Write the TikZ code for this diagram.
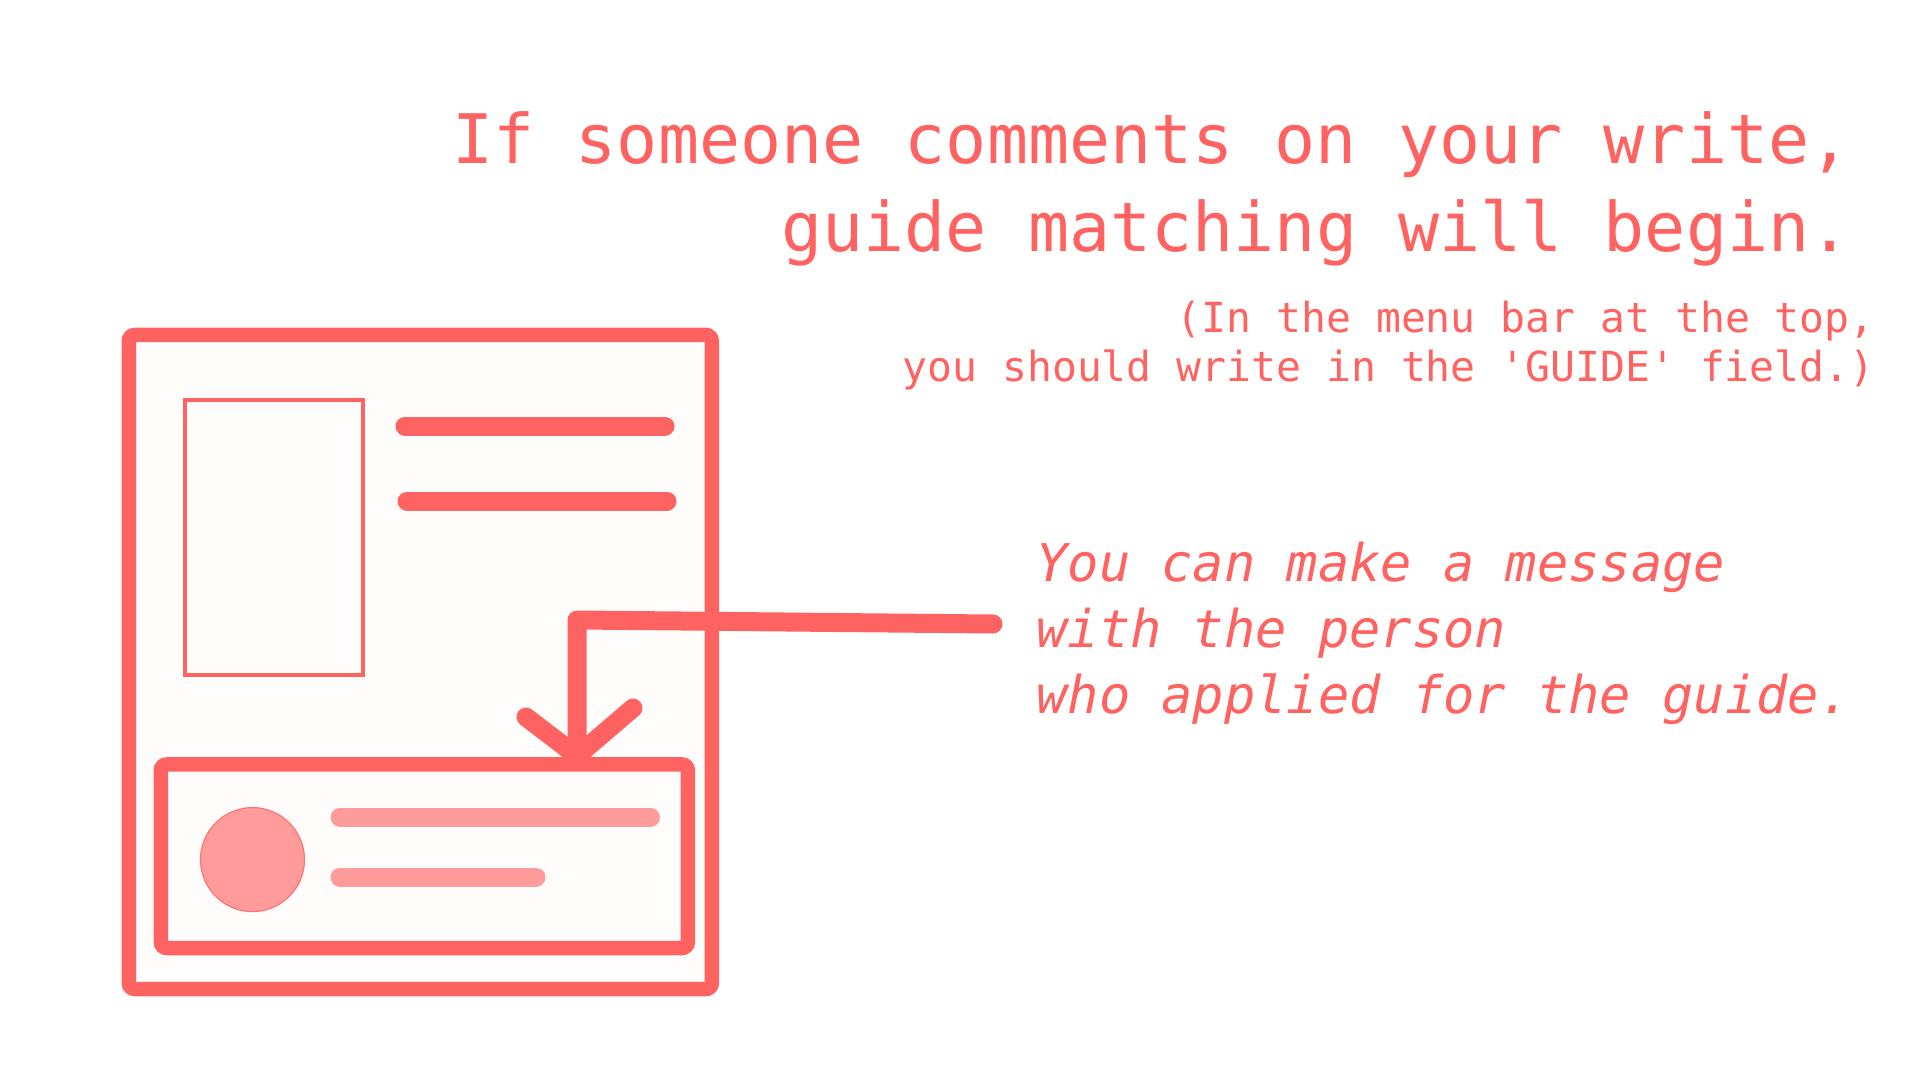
\documentclass[tikz,border=0pt]{standalone}
\usepackage{fontspec}
\newfontfamily\monofam{DejaVu Sans Mono}
\definecolor{coral}{RGB}{255,99,97}
\definecolor{pinkish}{RGB}{255,155,155}
\definecolor{paper}{RGB}{255,253,251}
\tikzset{
  frame/.style={draw=coral, fill=paper, line width=7.25pt, rounded corners=3pt, inner sep=0pt, outer sep=0pt},
  thinframe/.style={draw=coral, line width=2pt, inner sep=0pt, outer sep=0pt},
  bar/.style={draw=coral, line width=9.5pt, line cap=round},
  pinkbar/.style={draw=pinkish, line width=9.5pt, line cap=round},
  conn/.style={draw=coral, line width=9.5pt, line cap=round, line join=round},
  title/.style={text=coral, inner sep=0pt, anchor=base east, font=\monofam\fontsize{34.15pt}{34.15pt}\selectfont},
  note/.style={text=coral, inner sep=0pt, anchor=base east, font=\monofam\fontsize{20.7pt}{20.7pt}\selectfont},
  msg/.style={text=coral, inner sep=0pt, anchor=base west, font=\monofam\itshape\fontsize{26pt}{26pt}\selectfont},
}
\begin{document}
\begin{tikzpicture}[x=0.5pt,y=-0.5pt]
\useasboundingbox[fill=white] (0,0) rectangle (1920,1080);
% phone
\node[frame, minimum width=583*0.5pt, minimum height=654*0.5pt] (phone) at (420.3,662) {};
\node[thinframe, minimum width=177.5*0.5pt, minimum height=275.5*0.5pt] (photo) at (273.8,537.3) {};
\coordinate (l1a) at (405,426); \coordinate (l1b) at (665,426);
\coordinate (l2a) at (407,501); \coordinate (l2b) at (667,501);
\draw[bar] (l1a) -- (l1b);
\draw[bar] (l2a) -- (l2b);
% card
\node[frame, minimum width=527*0.5pt, minimum height=183.6*0.5pt] (card) at (424.3,856.2) {};
\node[circle, draw=coral!70!pinkish, line width=0.6pt, fill=pinkish, minimum size=104*0.5pt, inner sep=0pt] (avatar) at (252.5,859.6) {};
\coordinate (p1a) at (340,817); \coordinate (p1b) at (650.5,817);
\coordinate (p2a) at (340,877); \coordinate (p2b) at (536,877);
\draw[pinkbar] (p1a) -- (p1b);
\draw[pinkbar] (p2a) -- (p2b);
% connector
\coordinate (cstart) at (993,624);
\coordinate (bend) at (577,620);
\coordinate (tip) at (577,756);
\coordinate (armL) at (526,717);
\coordinate (armR) at (633,708);
\draw[conn] (cstart) -- (bend) -- (tip);
\draw[conn] (armL) -- (tip) -- (armR);
% texts
\node[title] (t1) at (1851,164) {If someone comments on your write,};
\node[title] (t2) at (1851,252) {guide matching will begin.};
\node[note] (n1) at (1875,333) {(In the menu bar at the top,};
\node[note] (n2) at (1875,381) {you should write in the 'GUIDE' field.)};
\node[msg] (m1) at (1036,581) {You can make a message};
\node[msg] (m2) at (1036,647) {with the person};
\node[msg] (m3) at (1036,713) {who applied for the guide.};
\end{tikzpicture}
\end{document}
